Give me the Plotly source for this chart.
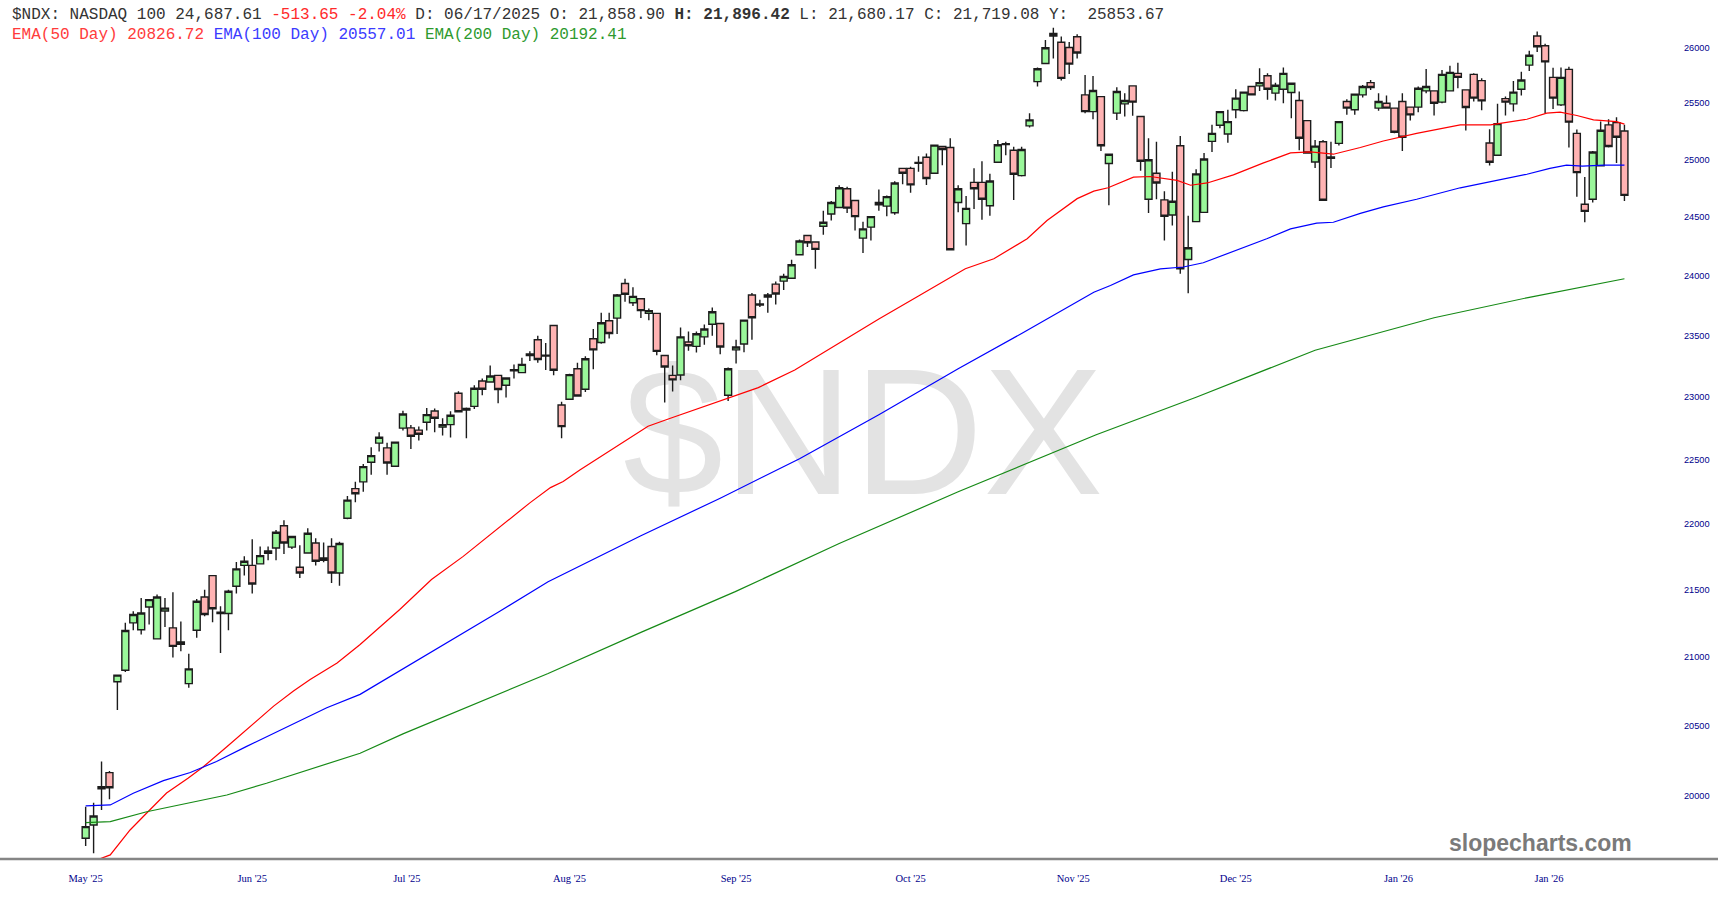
import math
import plotly.graph_objects as go

# ---- OHLC values (one candle per session) ----
opens = [19706, 19798, 20050, 20164, 20817, 20901, 21251, 21200, 21370, 21132,
         21340, 21214, 21092, 20803, 21196, 21445, 21606, 21320, 21321, 21525,
         21684, 21684, 21695, 21775, 21816, 21987, 21823, 21669, 21778, 21854,
         21740, 21828, 21626, 22045, 22275, 22328, 22482, 22633, 22595, 22450,
         22752, 22754, 22736, 22799, 22889, 22760, 22780, 23032, 22897, 22926,
         23131, 23123, 23177, 23097, 23215, 23199, 23339, 23468, 23335, 23585,
         22937, 22984, 23231, 23065, 23476, 23446, 23625, 23647, 23935, 23774,
         23808, 23686, 23686, 23339, 23177, 23180, 23449, 23414, 23492, 23596,
         23602, 23016, 23385, 23433, 23839, 23755, 23822, 23930, 23955, 23980,
         24178, 24342, 24286, 24421, 24525, 24582, 24743, 24642, 24319, 24413,
         24625, 24593, 24536, 24921, 24921, 24965, 25018, 24879, 25113, 25104,
         24625, 24443, 24799, 24799, 24596, 24975, 25130, 25080, 24858, 25295,
         25690, 25854, 26128, 26048, 26000, 26098, 25571, 25422, 25556, 24963,
         25408, 25491, 25652, 25378, 24653, 24879, 24647, 24517, 25119, 24138,
         24460, 24540, 25158, 25301, 25223, 25438, 25431, 25646, 25652, 25744,
         25587, 25622, 25592, 25521, 25342, 24977, 25154, 25010, 25140, 25512,
         25438, 25571, 25681, 25453, 25497, 25453, 25512, 25462, 25462, 25607,
         25607, 25506, 25607, 25765, 25616, 25756, 25699, 25143, 25036, 25538,
         25491, 25622, 25839, 26104, 26015, 25729, 25482, 25801, 25229, 24610,
         24653, 24943, 25304, 25324, 25250]
highs = [19925, 19953, 20243, 20175, 20870, 21251, 21338, 21438, 21430, 21463,
         21438, 21480, 21261, 21022, 21430, 21500, 21610, 21376, 21500, 21710,
         21753, 21884, 21828, 21828, 21955, 22030, 21909, 21838, 21968, 21891,
         21858, 21891, 21864, 22217, 22328, 22468, 22601, 22720, 22635, 22645,
         22891, 22778, 22765, 22913, 22910, 22831, 22887, 23048, 22918, 23097,
         23151, 23258, 23180, 23160, 23266, 23320, 23374, 23500, 23441, 23590,
         22963, 23190, 23280, 23333, 23557, 23692, 23692, 23847, 23975, 23904,
         23812, 23726, 23690, 23345, 23258, 23570, 23536, 23536, 23593, 23734,
         23606, 23240, 23468, 23635, 23856, 23800, 23856, 23952, 24017, 24136,
         24308, 24347, 24290, 24553, 24638, 24774, 24760, 24647, 24460, 24506,
         24737, 24686, 24808, 24926, 24935, 25027, 25051, 25131, 25116, 25185,
         24774, 24681, 24921, 24983, 24873, 25170, 25154, 25110, 25110, 25408,
         25819, 26069, 26180, 26100, 26050, 26120, 25750, 25741, 25562, 25048,
         25640, 25587, 25655, 25382, 25185, 25154, 24723, 24892, 25205, 24511,
         24913, 25056, 25304, 25425, 25438, 25622, 25601, 25652, 25810, 25765,
         25681, 25819, 25680, 25601, 25348, 25170, 25170, 25154, 25339, 25533,
         25580, 25661, 25705, 25587, 25565, 25458, 25587, 25465, 25646, 25804,
         25610, 25795, 25833, 25860, 25620, 25765, 25720, 25265, 25491, 25556,
         25696, 25780, 25971, 26146, 26033, 25815, 25819, 25825, 25262, 24845,
         25074, 25333, 25354, 25372, 25304]
lows = [19653, 19602, 19902, 19977, 20611, 20889, 21196, 21164, 21239, 21128,
        21221, 20995, 21040, 20774, 21140, 21301, 21256, 21028, 21196, 21470,
        21606, 21470, 21690, 21722, 21722, 21770, 21808, 21588, 21775, 21682,
        21707, 21550, 21530, 22037, 22169, 22251, 22383, 22566, 22383, 22445,
        22733, 22587, 22653, 22733, 22720, 22693, 22677, 22879, 22672, 22905,
        23016, 23118, 22952, 22998, 23151, 23194, 23293, 23280, 23220, 23177,
        22672, 22980, 23005, 23043, 23226, 23435, 23478, 23516, 23782, 23748,
        23647, 23630, 23341, 22957, 23046, 23137, 23377, 23363, 23427, 23502,
        23349, 22970, 23274, 23366, 23468, 23740, 23692, 23760, 23881, 23975,
        24172, 24243, 24059, 24347, 24469, 24576, 24534, 24384, 24192, 24299,
        24553, 24506, 24519, 24782, 24709, 24892, 24777, 24873, 24949, 24214,
        24540, 24257, 24568, 24477, 24511, 24969, 25036, 24647, 24850, 25280,
        25646, 25848, 25899, 25700, 25760, 25900, 25408, 25354, 25074, 24602,
        25348, 25378, 25384, 24901, 24534, 24653, 24299, 24426, 24017, 23853,
        24455, 24534, 25065, 25274, 25146, 25363, 25422, 25565, 25607, 25527,
        25521, 25497, 25363, 25080, 25051, 24924, 24640, 24924, 25122, 25393,
        25393, 25547, 25616, 25429, 25450, 25229, 25074, 25342, 25417, 25587,
        25387, 25497, 25601, 25631, 25253, 25512, 25435, 24946, 25030, 25387,
        25422, 25565, 25786, 25958, 25408, 25446, 25471, 25104, 24675, 24455,
        24625, 24937, 25104, 24969, 24638]
closes = [19786, 19860, 20065, 20058, 20865, 21194, 21313, 21325, 21425, 21445,
          21361, 21077, 21110, 20911, 21413, 21313, 21356, 21330, 21488, 21657,
          21715, 21543, 21758, 21793, 21937, 21854, 21904, 21626, 21929, 21715,
          21722, 21626, 21851, 22185, 22235, 22447, 22534, 22680, 22476, 22641,
          22865, 22688, 22704, 22860, 22831, 22780, 22855, 22883, 22910, 23073,
          23065, 23172, 23062, 23156, 23222, 23266, 23352, 23306, 23342, 23218,
          22764, 23183, 23010, 23312, 23385, 23608, 23520, 23839, 23845, 23828,
          23709, 23709, 23373, 23245, 23140, 23492, 23419, 23517, 23557, 23700,
          23409, 23231, 23409, 23630, 23650, 23765, 23839, 23847, 23994, 24093,
          24294, 24280, 24223, 24455, 24625, 24752, 24576, 24503, 24398, 24503,
          24604, 24675, 24794, 24879, 24777, 24972, 24833, 25125, 25087, 24220,
          24743, 24574, 24743, 24653, 24811, 25128, 25138, 24870, 25087, 25348,
          25806, 25997, 26104, 25720, 25848, 25950, 25422, 25610, 25119, 25045,
          25601, 25521, 25506, 24983, 24997, 24794, 24506, 24636, 24059, 24237,
          24873, 25003, 25229, 25422, 25333, 25542, 25596, 25571, 25681, 25622,
          25658, 25765, 25676, 25185, 25056, 25116, 24644, 25020, 25333, 25453,
          25578, 25646, 25637, 25512, 25453, 25238, 25194, 25393, 25631, 25646,
          25497, 25756, 25774, 25729, 25458, 25542, 25518, 24975, 25315, 25506,
          25596, 25705, 25929, 26006, 25869, 25542, 25729, 25328, 24884, 24548,
          25065, 25256, 25113, 25194, 24686]

# ---- moving averages (session index, value) ----
ema50_pos = [0, 1.4, 3.1, 5.6, 7.7, 10.2, 12.9, 14.8, 17.8, 20.7, 23.7, 26.2, 28.3, 31.7,
             34.6, 39.6, 43.6, 47.6, 51.8, 56.0, 58.6, 60.2, 62.3, 67, 70.9, 73.9, 77.7,
             81.0, 84.8, 89.4, 95, 100, 105, 110.9, 114.5, 118.7, 121.2, 122.9, 125.0,
             127.1, 128.9, 132.1, 134.2, 137.6, 139.3, 141.4, 144.7, 148.5, 151.9, 154.4,
             157.3, 160.7, 163.6, 167.8, 173.3, 177.1, 181.7, 184.2, 185.9, 188, 190.1,
             193, 194]
ema50_val = [19500, 19556, 19591, 19763, 19881, 20021, 20124, 20204, 20348, 20490, 20640,
             20749, 20833, 20954, 21090, 21351, 21576, 21752, 21955, 22164, 22283, 22330,
             22420, 22610, 22767, 22835, 22918, 22990, 23078, 23220, 23440, 23640, 23830,
             24059, 24144, 24314, 24469, 24553, 24658, 24723, 24752, 24845, 24850, 24816,
             24774, 24794, 24864, 24969, 25056, 25065, 25045, 25104, 25161, 25229, 25304,
             25304, 25354, 25408, 25417, 25387, 25348, 25333, 25310]

ema100_pos = [0, 3.1, 6, 9.8, 13.2, 16.5, 20.3, 26.2, 30.4, 34.6, 40, 46, 52, 58.3, 64.3,
              70, 80, 90, 100, 110, 118, 123.5, 127.1, 129.2, 132.1, 135.5, 138.4, 140.9,
              145.1, 148.9, 151.9, 155.2, 157.3, 160.7, 163.6, 167.8, 173.3, 177.5, 181.7,
              184.6, 186.7, 188.7, 191.4, 194]
ema100_val = [19930, 19937, 20019, 20108, 20165, 20243, 20351, 20514, 20628, 20725, 20909,
              21120, 21330, 21560, 21740, 21910, 22200, 22510, 22860, 23230, 23520, 23726,
              23862, 23918, 24008, 24059, 24074, 24110, 24214, 24314, 24398, 24447, 24455,
              24531, 24587, 24653, 24752, 24808, 24870, 24921, 24949, 24941, 24949, 24949]

ema200_pos = [0, 3.1, 7.7, 13.2, 17.8, 22.8, 28.7, 34.6, 40, 50, 58.3, 70, 81.9, 95, 110,
              127.4, 140, 155, 170, 182, 191, 194]
ema200_val = [19814, 19821, 19890, 19953, 20007, 20089, 20195, 20302, 20440, 20680, 20877,
              21180, 21485, 21850, 22250, 22700, 23000, 23382, 23650, 23820, 23938, 23975]

# ---- axis labels ----
month_pos = [0, 21, 40.5, 61, 82, 104, 124.5, 145, 165.5, 184.5]
month_labels = ["May '25", "Jun '25", "Jul '25", "Aug '25", "Sep '25", "Oct '25",
                "Nov '25", "Dec '25", "Jan '26", "Jan '26"]
price_ticks = list(range(20000, 26001, 500))

Y_LOW, Y_HIGH = 19563, 26436
X_LOW, X_HIGH = -10.8, 200.5

x = list(range(len(opens)))

fig = go.Figure()
fig.add_trace(go.Candlestick(
    x=x, open=opens, high=highs, low=lows, close=closes,
    increasing=dict(fillcolor='#9af79a', line=dict(color='#1c1c1c', width=1.4)),
    decreasing=dict(fillcolor='#ffb3b3', line=dict(color='#1c1c1c', width=1.4)),
    whiskerwidth=0, hoverinfo='skip', showlegend=False))

for pos, val, col in [(ema50_pos, ema50_val, '#ff0000'),
                      (ema100_pos, ema100_val, '#0000ff'),
                      (ema200_pos, ema200_val, '#168a16')]:
    fig.add_trace(go.Scatter(x=pos, y=val, mode='lines', line=dict(color=col, width=1.2),
                             hoverinfo='skip', showlegend=False))

header1 = ('$NDX: NASDAQ 100 24,687.61 <span style="color:#ff2a2a">-513.65 -2.04%</span> '
           'D: 06/17/2025 O: 21,858.90 <b>H: 21,896.42</b> L: 21,680.17 C: 21,719.08 '
           'Y:\u00a0 25853.67')
header2 = ('<span style="color:#ff3b3b">EMA(50 Day) 20826.72</span> '
           '<span style="color:#3b3bff">EMA(100 Day) 20557.01</span> '
           '<span style="color:#2e9a2e">EMA(200 Day) 20192.41</span>')

fig.update_layout(
    width=1718, height=900,
    margin=dict(l=0, r=42, t=0, b=41),
    paper_bgcolor='white', plot_bgcolor='white',
    showlegend=False, boxgap=0.12, boxgroupgap=0,
    xaxis=dict(range=[X_LOW, X_HIGH], tickvals=month_pos, ticktext=month_labels,
               showgrid=False, zeroline=False, showline=False, ticks='',
               rangeslider=dict(visible=False), ticklabelstandoff=11,
               tickfont=dict(family='Liberation Serif', size=10.5, color='#00008b')),
    yaxis=dict(type='log', range=[math.log10(Y_LOW), math.log10(Y_HIGH)], side='right',
               tickvals=price_ticks, ticktext=[str(v) for v in price_ticks],
               showgrid=False, zeroline=False, showline=False, ticks='',
               ticklabelstandoff=7,
               tickfont=dict(family='Liberation Sans', size=9.2, color='#00008b')),
    shapes=[
        dict(type='rect', xref='paper', yref='paper', x0=0.40, x1=0.63, y0=0.418, y1=0.618,
             line=dict(width=0), fillcolor='rgba(0,0,0,0)', layer='below',
             label=dict(text='$NDX', textposition='middle center',
                        font=dict(family='Liberation Sans', size=180, color='#e3e3e3'))),
        dict(type='line', xref='paper', yref='paper', x0=0, x1=1718 / 1676, y0=0, y1=0,
             line=dict(color='#858585', width=2.5)),
    ],
    annotations=[
        dict(text=header1, xref='paper', yref='paper', x=0, y=1, xanchor='left',
             yanchor='middle', xshift=10, yshift=-14.5, showarrow=False,
             font=dict(family='Liberation Mono', size=16, color='#333333')),
        dict(text=header2, xref='paper', yref='paper', x=0, y=1, xanchor='left',
             yanchor='middle', xshift=10, yshift=-34.5, showarrow=False,
             font=dict(family='Liberation Mono', size=16, color='#333333')),
        dict(text='<b>slopecharts.com</b>', xref='paper', yref='paper', x=1540 / 1676,
             y=(859 - 843) / 859, xanchor='center', yanchor='middle', showarrow=False,
             font=dict(family='Liberation Sans', size=23, color='#7a7a7a')),
    ],
)

fig.write_html("out.html",
               config={'displayModeBar': False},
               post_script="document.body.style.margin='0px';"
                           "document.body.style.overflow='hidden';")
